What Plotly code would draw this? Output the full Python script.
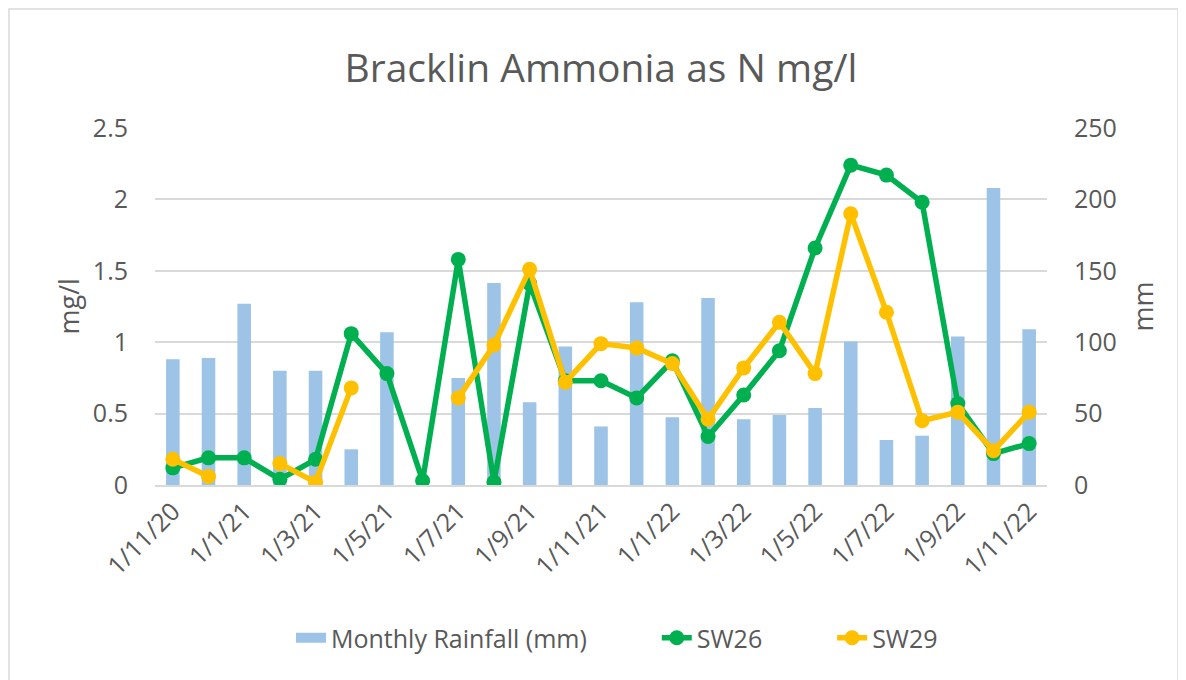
import plotly.graph_objects as go

months = ["1/11/20", "1/12/20", "1/1/21", "1/2/21", "1/3/21", "1/4/21", "1/5/21",
          "1/6/21", "1/7/21", "1/8/21", "1/9/21", "1/10/21", "1/11/21", "1/12/21",
          "1/1/22", "1/2/22", "1/3/22", "1/4/22", "1/5/22", "1/6/22", "1/7/22",
          "1/8/22", "1/9/22", "1/10/22", "1/11/22"]

rainfall_mm = [88, 89, 127, 80, 80, 25, 107, None, 75, 141.5, 58, 97, 41, 128,
               47.5, 131, 46, 49, 54, 100.5, 31.5, 34.5, 104, 208, 109]

sw26 = [0.12, 0.19, 0.19, 0.04, 0.18, 1.06, 0.78, 0.03, 1.58, 0.02, 1.41, 0.73,
        0.73, 0.61, 0.87, 0.34, 0.63, 0.94, 1.66, 2.24, 2.17, 1.98, 0.57, 0.22, 0.29]

sw29 = [0.18, 0.06, None, 0.15, 0.02, 0.68, None, None, 0.61, 0.98, 1.51, 0.72,
        0.99, 0.96, 0.85, 0.46, 0.82, 1.14, 0.78, 1.90, 1.21, 0.45, 0.51, 0.24, 0.51]

tick_labels = months[::2]

TXT = "#595959"
FONT = "Open Sans"
BAR = "#9DC3E6"
NB = "\u00a0"

# page offset of the figure (browser body margin)
OFF = 8
W, H = 1186 - OFF, 680 - OFF
L, R, T, B = 155 - OFF, 139, 128 - OFF, 195
PW, PH = W - L - R, H - T - B

fig = go.Figure()
fig.add_trace(go.Bar(x=months, y=rainfall_mm, name="Monthly Rainfall (mm)",
                     marker=dict(color=BAR, line=dict(width=0)),
                     width=0.38, yaxis="y", showlegend=False))
# legend swatch for the rainfall bars (wide rectangle like the original)
fig.add_trace(go.Scatter(x=[None], y=[None], name="Monthly Rainfall (mm)" + NB * 10,
                         mode="lines", line=dict(color=BAR, width=20),
                         yaxis="y", showlegend=True, hoverinfo="skip"))
fig.add_trace(go.Scatter(x=months, y=sw26, name="SW26" + NB * 10, mode="lines+markers",
                         line=dict(color="#00B050", width=5.5),
                         marker=dict(color="#00B050", size=15),
                         connectgaps=False, yaxis="y2"))
fig.add_trace(go.Scatter(x=months, y=sw29, name="SW29", mode="lines+markers",
                         line=dict(color="#FFC000", width=5.5),
                         marker=dict(color="#FFC000", size=15),
                         connectgaps=False, yaxis="y2"))

fig.update_layout(
    width=W, height=H,
    margin=dict(l=L, r=R, t=T, b=B, autoexpand=False),
    paper_bgcolor="white", plot_bgcolor="white",
    font=dict(family=FONT, color=TXT, size=25),
    title=dict(text="Bracklin Ammonia as N mg/l", x=0.5, xanchor="center",
               y=1 - (68 - OFF) / H, yanchor="middle", xref="paper",
               font=dict(size=39, color=TXT, family=FONT)),
    xaxis=dict(type="category", tickmode="array", tickvals=tick_labels,
               ticktext=tick_labels, tickangle=-45, range=[-0.5, 24.5],
               showgrid=False, showline=True, linecolor="#D9D9D9", linewidth=1.5,
               ticks="", tickfont=dict(size=25, color=TXT)),
    yaxis=dict(side="right", range=[0, 250], dtick=50, showgrid=True,
               gridcolor="#D9D9D9", gridwidth=1.5, zeroline=False,
               ticklabelstandoff=26, tickfont=dict(size=25, color=TXT)),
    yaxis2=dict(side="left", overlaying="y", range=[0, 2.5], dtick=0.5,
                showgrid=False, zeroline=False, tickformat="~g",
                ticklabelstandoff=26, tickfont=dict(size=25, color=TXT)),
    legend=dict(orientation="h", x=(291 - 155) / PW, xanchor="left",
                y=(128 + PH - 638) / PH, yanchor="middle",
                font=dict(size=25, color=TXT), traceorder="normal"),
    showlegend=True,
    annotations=[
        dict(text="mg/l", x=(68 - 155) / PW, y=0.5, xref="paper", yref="paper",
             xanchor="center", yanchor="middle",
             textangle=-90, showarrow=False, font=dict(size=27, color=TXT)),
        dict(text="mm", x=(1142 - 155) / PW, y=0.5, xref="paper", yref="paper",
             xanchor="center", yanchor="middle",
             textangle=-90, showarrow=False, font=dict(size=27, color=TXT)),
    ],
    shapes=[dict(type="rect", xref="paper", yref="paper",
                 x0=(9 - 155) / PW, x1=(1178 - 155) / PW,
                 y0=(128 + PH - 690) / PH, y1=(128 + PH - 9) / PH,
                 line=dict(color="#D9D9D9", width=1.5), layer="below")],
)

fig.write_html("out.html")
